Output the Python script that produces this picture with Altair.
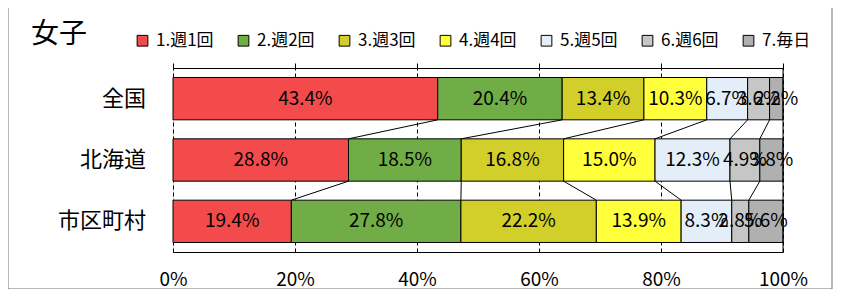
import altair as alt
import pandas as pd

categories = ["全国", "北海道", "市区町村"]
series = ["1.週1回", "2.週2回", "3.週3回", "4.週4回", "5.週5回", "6.週6回", "7.毎日"]
zenkoku = [43.4, 20.4, 13.4, 10.3, 6.7, 3.6, 2.2]
hokkaido = [28.8, 18.5, 16.8, 15.0, 12.3, 4.9, 3.8]
shikuchoson = [19.4, 27.8, 22.2, 13.9, 8.3, 2.8, 5.6]
colors = ["#F34B4B", "#70AD47", "#D2CF2A", "#FFFF3C", "#E3EEF8", "#C6C6C6", "#B0B0B0"]
x_ticks = [0, 0.2, 0.4, 0.6, 0.8, 1.0]
y_bounds = [-0.5, 0.5, 1.5, 2.5]

values = [zenkoku, hokkaido, shikuchoson]
half = 0.345

rows = []
cums = []
for i, (cat, vals) in enumerate(zip(categories, values)):
    total = sum(vals)
    c = 0.0
    cum = []
    for s, v in zip(series, vals):
        start = c / total
        c += v
        end = c / total
        cum.append(end)
        rows.append({"cat": cat, "idx": i, "series": s, "value": v,
                     "start": start, "end": end, "mid": (start + end) / 2,
                     "y0": i - half, "y1": i + half, "label": f"{v:.1f}%"})
    cums.append(cum)
df = pd.DataFrame(rows)
cdf = pd.DataFrame({"cat": categories, "idx": list(range(len(categories)))})

lines = []
for i in range(len(categories) - 1):
    for k in range(len(series) - 1):
        lines.append({"x": cums[i][k], "x2": cums[i + 1][k],
                      "y": i + half, "y2": i + 1 - half})
ldf = pd.DataFrame(lines)

font = "Noto Sans CJK JP"

xscale = alt.Scale(domain=[0, 1], nice=False)
yscale = alt.Scale(domain=[-0.5, 2.5], reverse=True, nice=False, zero=False)

bars = alt.Chart(df).mark_rect(stroke="black", strokeWidth=1).encode(
    x=alt.X("start:Q", scale=xscale,
            axis=alt.Axis(values=x_ticks, format="%", title=None, labelFontSize=19,
                          labelFont=font, labelColor="black", labelPadding=18,
                          labelFlush=False,
                          grid=True, gridColor="black", gridDash=[4, 3], gridWidth=1,
                          ticks=False, domainColor="black", domainWidth=1)),
    x2="end:Q",
    y=alt.Y("y0:Q", scale=yscale,
            axis=alt.Axis(values=y_bounds, labels=False, title=None, grid=False,
                          ticks=True, tickSize=7, tickColor="black",
                          domainColor="black", domainWidth=1)),
    y2="y1:Q",
    color=alt.Color("series:N", scale=alt.Scale(domain=series, range=colors),
                    sort=series,
                    legend=alt.Legend(title=None, orient="none", direction="horizontal",
                                      columns=7, legendX=-39, legendY=-36,
                                      symbolType="square", symbolSize=115,
                                      symbolStrokeColor="black", symbolStrokeWidth=1,
                                      labelFontSize=17, labelFont=font,
                                      labelColor="black", columnPadding=21,
                                      labelOffset=5)),
)

top_axis = alt.Chart(pd.DataFrame({"x": [1.0]})).mark_rule(
    color="black", strokeWidth=1).encode(
    x=alt.X("x:Q", scale=xscale,
            axis=alt.Axis(orient="top", values=x_ticks, labels=False, title=None,
                          grid=False, ticks=True, tickSize=5, tickColor="black",
                          domainColor="black", domainWidth=1)))

series_lines = alt.Chart(ldf).mark_rule(color="black", strokeWidth=1).encode(
    x=alt.X("x:Q", scale=xscale, axis=None), x2="x2:Q",
    y=alt.Y("y:Q", scale=yscale, axis=None), y2="y2:Q")

texts = alt.Chart(df).mark_text(fontSize=19, font=font, color="black").encode(
    x=alt.X("mid:Q", scale=xscale, axis=None),
    y=alt.Y("idx:Q", scale=yscale, axis=None),
    text="label:N")

cat_labels = alt.Chart(cdf).mark_text(
    fontSize=22, font=font, color="black", align="right", baseline="middle").encode(
    x=alt.value(-27),
    y=alt.Y("idx:Q", scale=yscale, axis=None),
    text="cat:N")

frame = alt.Chart(pd.DataFrame({"a": [0]})).mark_rect(
    fill=None, stroke="#707070", strokeWidth=1).encode(
    x=alt.value(-165), x2=alt.value(659), y=alt.value(-63), y2=alt.value(221))

title_text = alt.Chart(pd.DataFrame({"t": ["女子"]})).mark_text(
    fontSize=28, font=font, color="black", align="left", baseline="middle").encode(
    x=alt.value(-142), y=alt.value(-33), text="t:N")

chart = alt.layer(frame, bars, top_axis, series_lines, texts, cat_labels,
                  title_text).resolve_axis(x="independent").properties(
    width=610, height=184,
    autosize=alt.AutoSizeParams(type="none"),
    padding={"left": 165, "top": 60, "right": 50, "bottom": 37},
).configure_view(stroke="black", strokeWidth=1).configure(background="white")

chart.save("out.html", embed_options={"renderer": "svg", "actions": False})
